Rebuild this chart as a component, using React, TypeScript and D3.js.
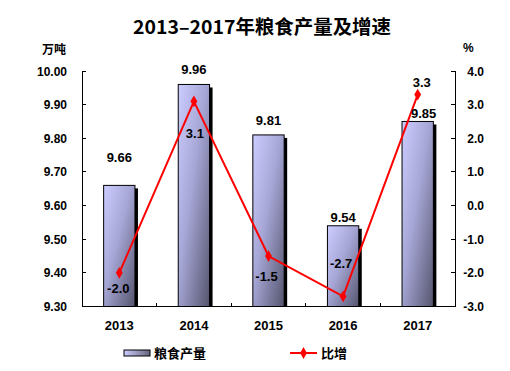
import React, { useRef, useEffect } from 'react';
import * as d3 from 'd3';

const years = ['2013', '2014', '2015', '2016', '2017'];
const output = [9.66, 9.96, 9.81, 9.54, 9.85];
const growth = [-2.0, 3.1, -1.5, -2.7, 3.3];
const leftTicks = [9.3, 9.4, 9.5, 9.6, 9.7, 9.8, 9.9, 10.0];
const rightTicks = [-3, -2, -1, 0, 1, 2, 3, 4];

// label placement (hand-positioned in the original)
const barLabelDx = [0, 0, 0, 0, 6];
const barLabelDy = [-28, -15, -14, -8, -8];
const lineLabelDx = [-1, 1, -2, -2, 4];
const lineLabelDy = [16, 32, 20, -33, -12];

const W = 510;
const H = 371;
const CJK = '"Noto Sans CJK SC", "Liberation Sans", sans-serif';
const NUM = '"Liberation Sans", Arial, sans-serif';

export default function App() {
  const ref = useRef<SVGSVGElement>(null);

  useEffect(() => {
    const svg = d3.select(ref.current);
    svg.selectAll('*').remove();

    const left = 82, right = 455, top = 71, bottom = 306.5;

    const x = d3.scaleBand().domain(years).range([left, right]).paddingInner(0.58).paddingOuter(0.29);
    const yL = d3.scaleLinear().domain([9.3, 10.0]).range([bottom, top]);
    const yR = d3.scaleLinear().domain([-3, 4]).range([bottom, top]);
    const cx = (d: string) => (x(d) as number) + x.bandwidth() / 2;

    const defs = svg.append('defs');
    const grad = defs.append('linearGradient').attr('id', 'barGrad')
      .attr('x1', 0).attr('y1', 0).attr('x2', 1).attr('y2', 1);
    grad.append('stop').attr('offset', '0%').attr('stop-color', '#ccccff');
    grad.append('stop').attr('offset', '45%').attr('stop-color', '#a6a6d6');
    grad.append('stop').attr('offset', '100%').attr('stop-color', '#55556e');
    const grad2 = defs.append('linearGradient').attr('id', 'legGrad')
      .attr('x1', 0).attr('y1', 0).attr('x2', 1).attr('y2', 0);
    grad2.append('stop').attr('offset', '0%').attr('stop-color', '#ccccff');
    grad2.append('stop').attr('offset', '100%').attr('stop-color', '#66667e');

    svg.append('rect').attr('width', W).attr('height', H).attr('fill', '#fff');

    // title
    svg.append('text')
      .attr('x', 262).attr('y', 34)
      .attr('text-anchor', 'middle')
      .attr('font-family', CJK).attr('font-weight', 'bold').attr('font-size', 19)
      .attr('textLength', 258).attr('lengthAdjust', 'spacingAndGlyphs')
      .text('2013–2017年粮食产量及增速');

    svg.append('text').attr('x', 42).attr('y', 54)
      .attr('font-family', CJK).attr('font-weight', 'bold').attr('font-size', 12)
      .text('万吨');
    svg.append('text').attr('x', 463).attr('y', 52)
      .attr('font-family', NUM).attr('font-weight', 'bold').attr('font-size', 12)
      .text('%');

    // bars
    const bars = svg.append('g');
    bars.selectAll('rect.shadow').data(output).enter().append('rect')
      .attr('class', 'shadow')
      .attr('x', (d, i) => (x(years[i]) as number) + 3)
      .attr('y', d => yL(d) + 3)
      .attr('width', x.bandwidth())
      .attr('height', d => bottom - yL(d) - 3)
      .attr('fill', '#000');
    bars.selectAll('rect.bar').data(output).enter().append('rect')
      .attr('class', 'bar')
      .attr('x', (d, i) => x(years[i]) as number)
      .attr('y', d => yL(d))
      .attr('width', x.bandwidth())
      .attr('height', d => bottom - yL(d))
      .attr('fill', 'url(#barGrad)')
      .attr('stroke', '#000').attr('stroke-width', 1);

    // axes
    const ax = svg.append('g').attr('stroke', '#000').attr('stroke-width', 1).attr('shape-rendering', 'crispEdges');
    ax.append('line').attr('x1', left).attr('x2', left).attr('y1', top).attr('y2', bottom);
    ax.append('line').attr('x1', right).attr('x2', right).attr('y1', top).attr('y2', bottom);
    ax.append('line').attr('x1', left).attr('x2', right).attr('y1', bottom).attr('y2', bottom);
    ax.selectAll('line.lt').data(leftTicks).enter().append('line')
      .attr('x1', left).attr('x2', left + 4).attr('y1', d => yL(d)).attr('y2', d => yL(d));
    ax.selectAll('line.rt').data(rightTicks).enter().append('line')
      .attr('x1', right - 4).attr('x2', right).attr('y1', d => yR(d)).attr('y2', d => yR(d));
    const step = x.step();
    ax.selectAll('line.xt').data(years.slice(1)).enter().append('line')
      .attr('x1', d => cx(d) - step / 2).attr('x2', d => cx(d) - step / 2)
      .attr('y1', bottom - 4).attr('y2', bottom);

    const lab = svg.append('g').attr('font-family', NUM).attr('font-weight', 'bold').attr('font-size', 12);
    lab.selectAll('text.l').data(leftTicks).enter().append('text')
      .attr('x', 67).attr('y', d => yL(d) + 4.5).attr('text-anchor', 'end')
      .text(d => d.toFixed(2));
    lab.selectAll('text.r').data(rightTicks).enter().append('text')
      .attr('x', 484).attr('y', d => yR(d) + 4.5).attr('text-anchor', 'end')
      .text(d => d.toFixed(1));
    lab.selectAll('text.x').data(years).enter().append('text')
      .attr('x', d => cx(d)).attr('y', 330).attr('text-anchor', 'middle').attr('font-size', 13)
      .text(d => d);

    // line
    const line = d3.line<number>().x((d, i) => cx(years[i])).y(d => yR(d));
    svg.append('path').datum(growth)
      .attr('d', line)
      .attr('fill', 'none').attr('stroke', '#ff0000').attr('stroke-width', 2);
    const diamond = d3.symbol().type(d3.symbolDiamond).size(40);
    svg.selectAll('path.pt').data(growth).enter().append('path')
      .attr('class', 'pt')
      .attr('d', diamond)
      .attr('transform', (d, i) => `translate(${cx(years[i])},${yR(d)})`)
      .attr('fill', '#ff0000');

    // data labels
    const dl = svg.append('g').attr('font-family', NUM).attr('font-weight', 'bold').attr('font-size', 13).attr('text-anchor', 'middle');
    dl.selectAll('text.b').data(output).enter().append('text')
      .attr('x', (d, i) => cx(years[i]) + barLabelDx[i])
      .attr('y', (d, i) => yL(d) + barLabelDy[i] + 4.5)
      .text(d => d.toFixed(2));
    dl.selectAll('text.g').data(growth).enter().append('text')
      .attr('x', (d, i) => cx(years[i]) + lineLabelDx[i])
      .attr('y', (d, i) => yR(d) + lineLabelDy[i] + 4.5)
      .text(d => d.toFixed(1));

    // legend
    const lg = svg.append('g');
    lg.append('rect').attr('x', 124).attr('y', 350).attr('width', 26).attr('height', 6)
      .attr('fill', 'url(#legGrad)').attr('stroke', '#000').attr('stroke-width', 1);
    lg.append('text').attr('x', 154).attr('y', 358)
      .attr('font-family', CJK).attr('font-weight', 'bold').attr('font-size', 13)
      .text('粮食产量');
    lg.append('line').attr('x1', 290).attr('x2', 317).attr('y1', 353).attr('y2', 353)
      .attr('stroke', '#ff0000').attr('stroke-width', 2);
    lg.append('path').attr('d', diamond).attr('transform', 'translate(303.5,353)').attr('fill', '#ff0000');
    lg.append('text').attr('x', 321).attr('y', 358)
      .attr('font-family', CJK).attr('font-weight', 'bold').attr('font-size', 13)
      .text('比增');
  }, []);

  return (
    <svg ref={ref} width={W} height={H} style={{ position: 'absolute', left: 0, top: 0 }} />
  );
}
